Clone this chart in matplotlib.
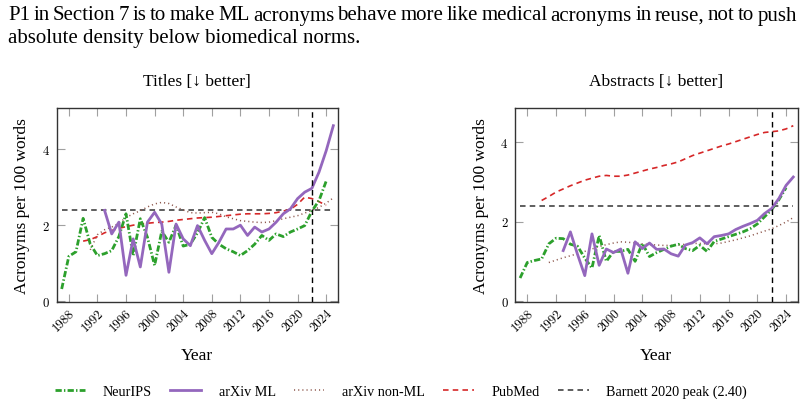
import matplotlib
matplotlib.use("Agg")
import matplotlib.pyplot as plt
import numpy as np

plt.rcParams['font.family'] = ['Liberation Serif', 'DejaVu Serif']
plt.rcParams['lines.scale_dashes'] = False

# ---------------- data ----------------
caption_line1 = "P1 in Section 7 is to make ML acronyms behave more like medical acronyms in reuse, not to push"
caption_line2 = "absolute density below biomedical norms."
panel_titles = ["Titles [\u2193 better]", "Abstracts [\u2193 better]"]
series_names = ["NeurIPS", "arXiv ML", "arXiv non-ML", "PubMed"]
barnett_label = "Barnett 2020 peak (2.40)"
barnett_peak = 2.40
chatgpt_year = 2022
xticks = list(range(1988, 2025, 4))
yticks = [0, 2, 4]

years_neurips = list(range(1987, 2025))
years_arxiv_ml = list(range(1993, 2026))
years_nonml = list(range(1991, 2026))
years_pubmed_titles = list(range(1990, 2025))
years_pubmed_abs = list(range(1990, 2026))

neurips_titles = [0.32, 1.18, 1.3, 2.18, 1.5, 1.2, 1.25, 1.33, 1.7, 2.3, 1.2, 2.17, 1.68, 0.94,
                  1.84, 1.55, 2.0, 1.45, 1.5, 1.8, 2.2, 1.68, 1.5, 1.38, 1.3, 1.2, 1.33, 1.5,
                  1.73, 1.6, 1.77, 1.7, 1.82, 1.9, 1.99, 2.37, 2.65, 3.16]
arxiv_ml_titles = [2.39, 1.77, 2.08, 0.68, 1.64, 0.9, 2.08, 2.34, 2.03, 0.76, 2.03, 1.64, 1.46,
                   1.99, 1.6, 1.25, 1.55, 1.9, 1.9, 2.0, 1.73, 1.95, 1.82, 1.9, 2.08, 2.3, 2.43,
                   2.7, 2.87, 2.97, 3.4, 3.96, 4.62]
nonml_titles = [1.35, 1.75, 1.88, 1.95, 2.05, 2.2, 2.3, 2.38, 2.48, 2.56, 2.6, 2.57, 2.48, 2.4,
                2.33, 2.32, 2.33, 2.34, 2.3, 2.22, 2.17, 2.12, 2.1, 2.08, 2.07, 2.08, 2.12, 2.17,
                2.21, 2.25, 2.32, 2.39, 2.47, 2.58, 2.72]
pubmed_titles = [1.58, 1.62, 1.7, 1.8, 1.86, 1.92, 1.96, 2.0, 2.03, 2.05, 2.07, 2.08, 2.1, 2.13,
                 2.15, 2.17, 2.19, 2.2, 2.21, 2.23, 2.25, 2.27, 2.29, 2.3, 2.3, 2.3, 2.31, 2.33,
                 2.37, 2.42, 2.55, 2.74, 2.7, 2.62, 2.52]

neurips_abs = [0.58, 0.97, 1.02, 1.06, 1.44, 1.58, 1.57, 1.43, 1.38, 1.08, 0.83, 1.65, 1.0, 1.25,
               1.25, 1.3, 1.0, 1.45, 1.12, 1.22, 1.3, 1.38, 1.43, 1.32, 1.27, 1.4, 1.25, 1.5,
               1.56, 1.62, 1.68, 1.74, 1.82, 1.94, 2.12, 2.3, 2.55, 2.85]
arxiv_ml_abs = [1.27, 1.74, 1.17, 0.64, 1.69, 0.9, 1.31, 1.22, 1.31, 0.7, 1.49, 1.32, 1.46, 1.3,
                1.31, 1.19, 1.13, 1.41, 1.47, 1.59, 1.44, 1.62, 1.65, 1.69, 1.8, 1.88, 1.95,
                2.03, 2.2, 2.33, 2.58, 2.91, 3.12]
nonml_abs = [0.97, 1.03, 1.09, 1.14, 1.19, 1.25, 1.31, 1.37, 1.42, 1.46, 1.49, 1.48, 1.46, 1.44,
             1.42, 1.41, 1.4, 1.4, 1.41, 1.43, 1.45, 1.45, 1.44, 1.44, 1.46, 1.5, 1.54, 1.59,
             1.64, 1.7, 1.76, 1.82, 1.9, 1.99, 2.1]
pubmed_abs = [2.53, 2.63, 2.74, 2.82, 2.9, 2.97, 3.04, 3.09, 3.14, 3.16, 3.14, 3.14, 3.17, 3.22,
              3.27, 3.32, 3.36, 3.41, 3.45, 3.5, 3.58, 3.66, 3.72, 3.78, 3.84, 3.9, 3.95, 4.01,
              4.07, 4.13, 4.19, 4.24, 4.26, 4.28, 4.33, 4.41]

# ---------------- styles ----------------
GREEN = '#2ca02c'
PURPLE = '#9467bd'
BROWN = '#8c564b'
RED = '#d62728'
W, H = 805, 406

fig = plt.figure(figsize=(W / 100, H / 100), dpi=100)

# caption: first line justified between x=8 and x=797 (like the source paragraph)
renderer = fig.canvas.get_renderer()
words = caption_line1.split(' ')
cap_fs = 15.0
word_texts = [fig.text(0, 1 - 20.5 / H, w, ha='left', va='baseline', fontsize=cap_fs) for w in words]
widths = [t.get_window_extent(renderer=renderer).width for t in word_texts]
left_px, right_px = 8, 797
gap = (right_px - left_px - sum(widths)) / (len(words) - 1)
xpos = left_px
for t, wdt in zip(word_texts, widths):
    t.set_x(xpos / W)
    xpos += wdt + gap
fig.text(left_px / W, 1 - 42.5 / H, caption_line2, ha='left', va='baseline', fontsize=cap_fs)

ax1 = fig.add_axes([0.0704, 0.253, 0.349, 0.478])
ax2 = fig.add_axes([0.6398, 0.253, 0.351, 0.478])

panels = [
    (ax1, panel_titles[0], neurips_titles, arxiv_ml_titles, nonml_titles, pubmed_titles,
     years_pubmed_titles, 5.08),
    (ax2, panel_titles[1], neurips_abs, arxiv_ml_abs, nonml_abs, pubmed_abs,
     years_pubmed_abs, 4.85),
]

handles = None
for ax, title, ne, ml, nm, pm, pm_years, ytop in panels:
    h1, = ax.plot(years_neurips, ne, color=GREEN, lw=2.0, dashes=(4.5, 1.6, 1.0, 1.6),
                  label=series_names[0], zorder=3)
    h2, = ax.plot(years_arxiv_ml, ml, color=PURPLE, lw=2.0, solid_joinstyle='round',
                  label=series_names[1], zorder=4)
    h3, = ax.plot(years_nonml, nm, color=BROWN, lw=1.1, dashes=(0.8, 2.2),
                  label=series_names[2], zorder=2)
    h4, = ax.plot(pm_years, pm, color=RED, lw=1.2, dashes=(4.0, 3.0),
                  label=series_names[3], zorder=2)
    h5 = ax.hlines(barnett_peak, 1987, 2025, colors='#333333', lw=1.1,
                   linestyles=(0, (4.0, 3.0)), label=barnett_label, zorder=1)
    ax.axvline(chatgpt_year, color='black', lw=1.0, dashes=(4.0, 3.0), zorder=5)
    handles = [h1, h2, h3, h4, h5]

    ax.set_xlim(1986.3, 2025.6)
    ax.set_ylim(-0.03, ytop)
    ax.set_xticks(xticks)
    ax.set_yticks(yticks)
    ax.set_xticklabels([str(t) for t in xticks], rotation=45, ha='right', va='top',
                       rotation_mode='anchor', fontfamily='cmr10', fontsize=9.3)
    ax.set_yticklabels([str(t) for t in yticks], fontfamily='cmr10', fontsize=9.3)
    ax.tick_params(direction='in', length=5.5, width=0.8, color='#a0a0a0',
                   top=True, right=True)
    ax.tick_params(axis='x', pad=3)
    ax.tick_params(axis='y', pad=5.5)
    for s in ax.spines.values():
        s.set_color('#333333')
        s.set_linewidth(1.0)
    ax.set_title(title, fontsize=12.5, pad=17)
    ax.set_xlabel('Year', fontsize=12.5, labelpad=10)
    ax.set_ylabel('Acronyms per 100 words', fontsize=12.5, labelpad=9)

fig.legend(handles=handles, labels=series_names + [barnett_label], loc='center',
           bbox_to_anchor=(0.498, 1 - 392 / H), ncol=5, frameon=False, fontsize=10.2,
           handlelength=2.15, handletextpad=1.25, columnspacing=1.3)

fig.savefig('out.png', dpi=100)
